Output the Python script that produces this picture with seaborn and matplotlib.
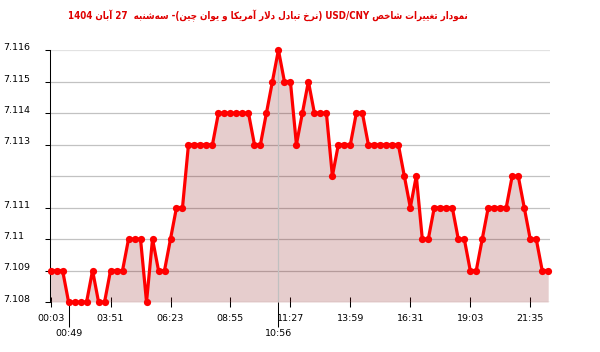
import re
import matplotlib
matplotlib.use("Agg")
import matplotlib.pyplot as plt
from matplotlib import font_manager, ft2font
import numpy as np
import pandas as pd
import seaborn as sns

# ---------------- data ----------------
title_text = "نمودار تغییرات شاخص USD/CNY (نرخ تبادل دلار آمریکا و یوان چین)- سه‌شنبه  27 آبان 1404"

values = [
    7.109, 7.109, 7.109, 7.108, 7.108, 7.108, 7.108, 7.109, 7.108, 7.108,
    7.109, 7.109, 7.109, 7.110, 7.110, 7.110, 7.108, 7.110, 7.109, 7.109,
    7.110, 7.111, 7.111, 7.113, 7.113, 7.113, 7.113, 7.113, 7.114, 7.114,
    7.114, 7.114, 7.114, 7.114, 7.113, 7.113, 7.114, 7.115, 7.116, 7.115,
    7.115, 7.113, 7.114, 7.115, 7.114, 7.114, 7.114, 7.112, 7.113, 7.113,
    7.113, 7.114, 7.114, 7.113, 7.113, 7.113, 7.113, 7.113, 7.113, 7.112,
    7.111, 7.112, 7.110, 7.110, 7.111, 7.111, 7.111, 7.111, 7.110, 7.110,
    7.109, 7.109, 7.110, 7.111, 7.111, 7.111, 7.111, 7.112, 7.112, 7.111,
    7.110, 7.110, 7.109, 7.109,
]

major_tick_idx = [0, 10, 20, 30, 40, 50, 60, 70, 80]
major_tick_labels = ["00:03", "03:51", "06:23", "08:55", "11:27", "13:59", "16:31", "19:03", "21:35"]
extra_tick_idx = [3, 38]
extra_tick_labels = ["00:49", "10:56"]

ytick_values = [7.108, 7.109, 7.110, 7.111, 7.112, 7.113, 7.114, 7.115, 7.116]
ytick_labels = ["7.108", "7.109", "7.11", "7.111", "", "7.113", "7.114", "7.115", "7.116"]

# ---------------- Persian shaping (matplotlib has no bidi/shaping) ----------------
FORMS = {
    '\u0627': ('\uFE8D', '\uFE8E', None, None),
    '\u0622': ('\uFE81', '\uFE82', None, None),
    '\u0628': ('\uFE8F', '\uFE90', '\uFE91', '\uFE92'),
    '\u062A': ('\uFE95', '\uFE96', '\uFE97', '\uFE98'),
    '\u062E': ('\uFEA5', '\uFEA6', '\uFEA7', '\uFEA8'),
    '\u062F': ('\uFEA9', '\uFEAA', None, None),
    '\u0631': ('\uFEAD', '\uFEAE', None, None),
    '\u0633': ('\uFEB1', '\uFEB2', '\uFEB3', '\uFEB4'),
    '\u0634': ('\uFEB5', '\uFEB6', '\uFEB7', '\uFEB8'),
    '\u0635': ('\uFEB9', '\uFEBA', '\uFEBB', '\uFEBC'),
    '\u063A': ('\uFECD', '\uFECE', '\uFECF', '\uFED0'),
    '\u0644': ('\uFEDD', '\uFEDE', '\uFEDF', '\uFEE0'),
    '\u0645': ('\uFEE1', '\uFEE2', '\uFEE3', '\uFEE4'),
    '\u0646': ('\uFEE5', '\uFEE6', '\uFEE7', '\uFEE8'),
    '\u0647': ('\uFEE9', '\uFEEA', '\uFEEB', '\uFEEC'),
    '\u0648': ('\uFEED', '\uFEEE', None, None),
    '\u06CC': ('\uFBFC', '\uFBFD', '\uFBFE', '\uFBFF'),
    '\u06A9': ('\uFB8E', '\uFB8F', '\uFB90', '\uFB91'),
    '\u0686': ('\uFB7A', '\uFB7B', '\uFB7C', '\uFB7D'),
}
FALLBACK = {
    '\u06CC': ('\uFEEF', '\uFEF0', '\uFEF3', '\uFEF4'),
    '\u06A9': ('\uFED9', '\uFEDA', '\uFEDB', '\uFEDC'),
    '\u0686': ('\uFE9D', '\uFE9E', '\uFE9F', '\uFEA0'),
}
LAM_ALEF = {'\u0627': ('\uFEFB', '\uFEFC'), '\u0622': ('\uFEF5', '\uFEF6')}


def shape_word(w, forms_tab):
    chars = list(w)
    out = []
    i = 0
    n = len(chars)
    while i < n:
        c = chars[i]
        if c not in forms_tab:
            if c != '\u200C':
                out.append(c)
            i += 1
            continue
        prev = chars[i - 1] if i > 0 else None
        joins_prev = prev in forms_tab and forms_tab[prev][2] is not None
        if c == '\u0644' and i + 1 < n and chars[i + 1] in LAM_ALEF:
            out.append(LAM_ALEF[chars[i + 1]][1 if joins_prev else 0])
            i += 2
            continue
        nxt = chars[i + 1] if i + 1 < n else None
        joins_next = forms_tab[c][2] is not None and nxt in forms_tab
        f = forms_tab[c]
        if joins_prev and joins_next:
            out.append(f[3])
        elif joins_prev:
            out.append(f[1])
        elif joins_next:
            out.append(f[2])
        else:
            out.append(f[0])
        i += 1
    return ''.join(reversed(out))


def visual_rtl(s, forms_tab):
    tokens = re.findall(r'[\u0600-\u06FF\u200C]+|[A-Za-z0-9/.]+|.', s)
    res = []
    for t in reversed(tokens):
        if re.match(r'[\u0600-\u06FF]', t):
            res.append(shape_word(t, forms_tab))
        elif t == '(':
            res.append(')')
        elif t == ')':
            res.append('(')
        else:
            res.append(t)
    return ''.join(res)


def forms_for_font(fp):
    tab = dict(FORMS)
    cmap = ft2font.FT2Font(font_manager.findfont(fp)).get_charmap()
    for k, fb in FALLBACK.items():
        forms = list(tab[k])
        for j in range(4):
            if forms[j] is not None and ord(forms[j]) not in cmap:
                forms[j] = fb[j]
        tab[k] = tuple(forms)
    return tab, cmap


# choose a (preferably condensed) bold face that covers every glyph of the title
TITLE_FONT = font_manager.FontProperties(family="DejaVu Sans", weight="bold")
title_visual = None
for fp in [font_manager.FontProperties(family="DejaVu Sans", weight="bold", stretch="condensed"),
           font_manager.FontProperties(family="DejaVu Sans", weight="bold")]:
    try:
        tab, cmap = forms_for_font(fp)
        vis = visual_rtl(title_text, tab)
        if all(ord(ch) in cmap for ch in vis if ch != ' '):
            TITLE_FONT = fp
            title_visual = vis
            break
    except Exception:
        continue
if title_visual is None:
    title_visual = visual_rtl(title_text, FORMS)

# ---------------- plot ----------------
sns.set_style("white")
plt.rcParams['font.family'] = ['DejaVu Sans']

df = pd.DataFrame({"idx": np.arange(len(values)), "value": values})

W, H = 600, 352
fig = plt.figure(figsize=(W / 100, H / 100), dpi=100)
ax = fig.add_axes([50 / W, 50 / H, 500 / W, 252 / H])

ax.set_xlim(-0.1, 83.3)
ax.set_ylim(ytick_values[0], ytick_values[-1])

ax.set_axisbelow(True)
ax.set_yticks(ytick_values)
ax.set_yticklabels(ytick_labels)
ax.grid(axis='y', color='#c2c2c2', linewidth=0.9)
ax.grid(axis='x', visible=False)
ax.get_ygridlines()[-1].set_color('#e2e2e2')

ax.fill_between(df["idx"], df["value"], ytick_values[0], color=(0.5, 0, 0),
                alpha=0.195, linewidth=0, zorder=1.5)
ax.axvline(extra_tick_idx[1], color='#c0c0c0', linewidth=0.9, zorder=1.8)

sns.lineplot(data=df, x="idx", y="value", ax=ax, color='#ff0000', linewidth=2.3,
             marker='o', markersize=5.2, markeredgewidth=0, errorbar=None,
             clip_on=False, zorder=3)

ax.set_xlabel("")
ax.set_ylabel("")

for side in ["top", "right", "bottom"]:
    ax.spines[side].set_visible(False)
ax.spines["left"].set_color("black")
ax.spines["left"].set_linewidth(0.75)

ax.set_xticks(major_tick_idx)
ax.set_xticklabels(major_tick_labels)
ax.set_xticks(extra_tick_idx, minor=True)
ax.set_xticklabels(extra_tick_labels, minor=True)

ax.tick_params(axis='x', which='major', direction='inout', length=7.2, width=0.75,
               color='black', pad=5, labelsize=6.8, labelcolor='black', bottom=True)
ax.tick_params(axis='x', which='minor', direction='out', length=18, width=0.75,
               color='black', pad=1.5, labelsize=6.8, labelcolor='black', bottom=True)
ax.xaxis.get_minor_ticks()[1].tick1line.set_color('#c0c0c0')

ax.tick_params(axis='y', which='major', direction='out', length=3.6, width=0.75,
               color='black', pad=30.2, labelsize=6.8, labelcolor='black', left=True)
plt.setp(ax.get_yticklabels(), ha='left', va='baseline')
ax.yaxis.get_major_ticks()[4].tick1line.set_visible(False)

# title: fit to the reference width (~405 px, from x=67 to x=468)
title = fig.text(268 / W, 1 - 16 / H, title_visual, fontproperties=TITLE_FONT,
                 fontsize=8, color='#e00000', ha='center', va='center')
renderer = fig.canvas.get_renderer()
w_now = title.get_window_extent(renderer).width
title.set_fontsize(8 * 405 / w_now)

fig.savefig("out.png", dpi=100)
